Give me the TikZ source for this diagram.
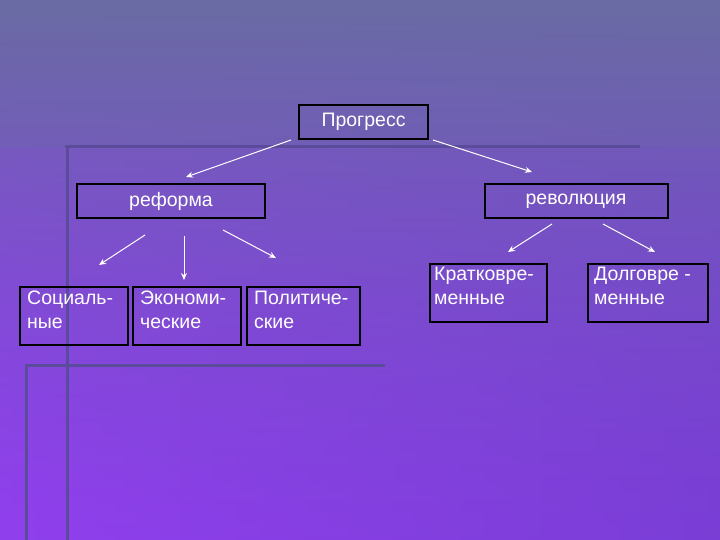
\documentclass[tikz,border=0pt]{standalone}
\usepackage{fontspec}
\setmainfont{Liberation Sans}
\usetikzlibrary{arrows.meta,fadings}
\definecolor{topc}{HTML}{6A6CA4}
\definecolor{botc}{HTML}{7A3ED6}
\definecolor{leftc}{HTML}{9A40F8}
\definecolor{linec}{HTML}{5A4C9A}
\tikzset{
  box/.style={draw=black, line width=1.8pt},
  txt/.style={text=white, font=\fontsize{19.5}{24}\selectfont},
  lft/.style={txt, align=left, anchor=north west, inner sep=0pt},
  arr/.style={draw=white, line width=1pt, -{Stealth[length=7pt,width=6pt]}},
  deco/.style={draw=linec, line width=3pt}
}
\begin{document}
\begin{tikzpicture}[x=1pt,y=-1pt]
\useasboundingbox (0,0) rectangle (720,540);
\shade[top color=topc, bottom color=botc] (0,0) rectangle (720,540);
\shade[left color=leftc, right color=botc, opacity=0.7, path fading=north] (0,0) rectangle (720,540);
\fill[topc, opacity=0.25] (0,0) rectangle (720,147);
% decorative lines
\draw[deco] (65,147) -- (640,147);
\draw[deco] (67,147) -- (67,540);
\draw[deco] (25,365) -- (385,365);
\draw[deco] (26,365) -- (26,540);
% boxes
\draw[box] (299,105) rectangle (428,139); \node[txt] (prog) at (363.5,122) {Прогресс};
\draw[box] (77,184) rectangle (265,218); \node[txt] (ref) at (171,201) {реформа};
\draw[box] (485,184) rectangle (668,218); \node[txt] (rev) at (576,201) {революция};
\draw[box] (20,287) rectangle (128,345); \node[lft] (soc) at (27,291) {Социаль-\\ные};
\draw[box] (133,287) rectangle (241,345); \node[lft] (eco) at (140,291) {Экономи-\\ческие};
\draw[box] (247,287) rectangle (360,345); \node[lft] (pol) at (254,291) {Политиче-\\ские};
\draw[box] (430,264) rectangle (547,322); \node[lft] (kr) at (434,267) {Кратковре-\\менные};
\draw[box] (588,264) rectangle (708,322); \node[lft] (dl) at (594,267) {Долговре -\\менные};
% arrow endpoints
\coordinate (a1) at (291,140); \coordinate (b1) at (186,177);
\coordinate (a2) at (433,140); \coordinate (b2) at (532,172);
\coordinate (a3) at (145,235); \coordinate (b3) at (99,265);
\coordinate (a4) at (184,236); \coordinate (b4) at (184,280);
\coordinate (a5) at (223,230); \coordinate (b5) at (276,258);
\coordinate (a6) at (552,224); \coordinate (b6) at (508,252);
\coordinate (a7) at (603,224); \coordinate (b7) at (655,252);
\foreach \i in {1,...,7} \draw[arr] (a\i) -- (b\i);
\end{tikzpicture}
\end{document}
